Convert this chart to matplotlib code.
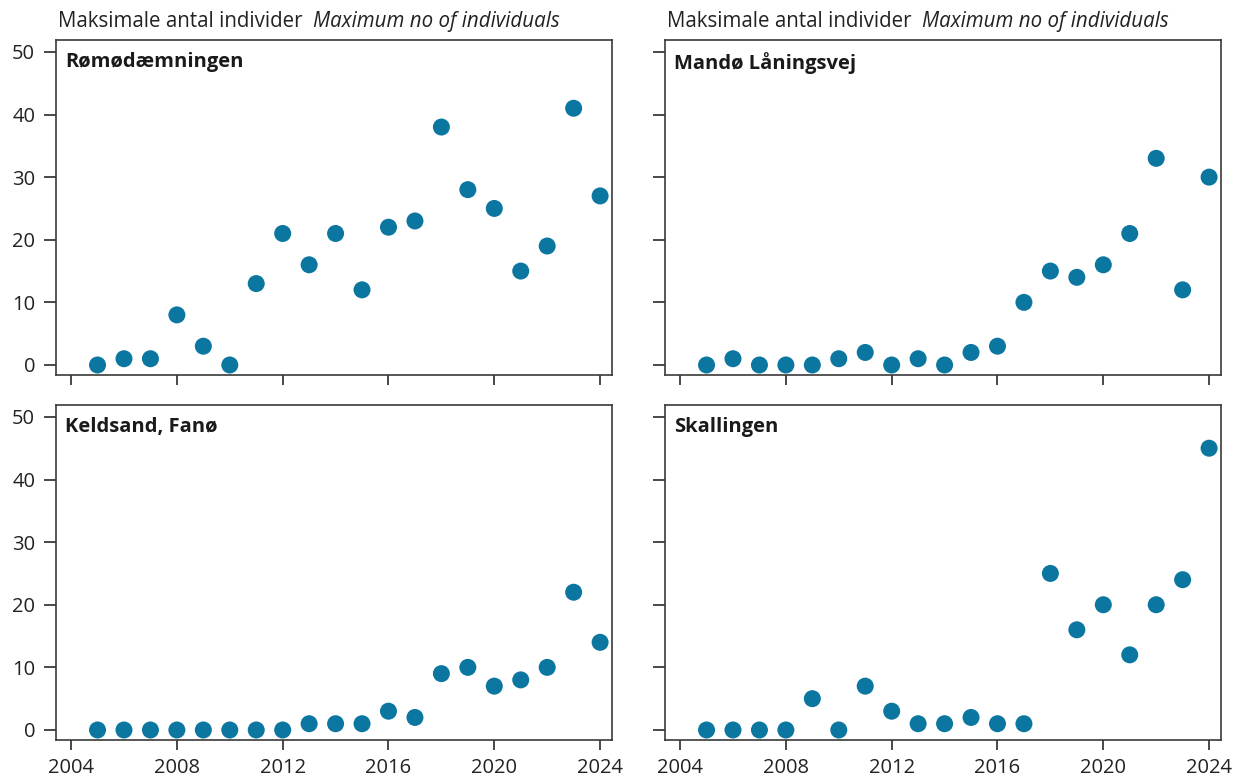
import matplotlib
matplotlib.use("Agg")
import matplotlib.pyplot as plt

years = list(range(2005, 2025))
romo = [0, 1, 1, 8, 3, 0, 13, 21, 16, 21, 12, 22, 23, 38, 28, 25, 15, 19, 41, 27]
mando = [0, 1, 0, 0, 0, 1, 2, 0, 1, 0, 2, 3, 10, 15, 14, 16, 21, 33, 12, 30]
keldsand = [0, 0, 0, 0, 0, 0, 0, 0, 1, 1, 1, 3, 2, 9, 10, 7, 8, 10, 22, 14]
skallingen = [0, 0, 0, 0, 5, 0, 7, 3, 1, 1, 2, 1, 1, 25, 16, 20, 12, 20, 24, 45]
panel_names = ["Rømødæmningen", "Mandø Låningsvej", "Keldsand, Fanø", "Skallingen"]
xticks = [2004, 2008, 2012, 2016, 2020, 2024]
yticks = [0, 10, 20, 30, 40, 50]
title_da = "Maksimale antal individer"
title_en = "Maximum no of individuals"

plt.rcParams['font.family'] = ['Open Sans', 'DejaVu Sans']
color = '#0b77a1'
edge = '#3a3a3a'

fig = plt.figure(figsize=(12.36, 7.78), dpi=100)
W, H = 1236, 778
lefts = [56, 665]
tops = [40, 405]
pw, ph = 556, 335
series = [romo, mando, keldsand, skallingen]
for i in range(4):
    r, c = divmod(i, 2)
    l = lefts[c] / W
    b = 1 - (tops[r] + ph) / H
    ax = fig.add_axes([l, b, pw / W, ph / H])
    ax.scatter(years, series[i], s=150, color=color, edgecolors='none', zorder=3, clip_on=False)
    ax.set_xlim(2003.43, 2024.45)
    ax.set_ylim(-1.6, 51.9)
    ax.set_xticks(xticks)
    ax.set_yticks(yticks)
    for sp in ax.spines.values():
        sp.set_color(edge)
        sp.set_linewidth(1.2)
    ax.tick_params(axis='x', direction='out', length=7.5, width=1.3, color=edge,
                   labelsize=14.5, pad=5.5, labelcolor='#222222')
    ax.tick_params(axis='y', direction='out', length=9, width=1.3, color=edge,
                   labelsize=14.5, pad=6, labelcolor='#222222')
    if r == 0:
        ax.set_xticklabels([])
    if c == 1:
        ax.set_yticklabels([])
    ax.text(0.017, 0.965, panel_names[i], transform=ax.transAxes, ha='left', va='top',
            fontsize=14.5, fontweight='bold', color='#1a1a1a')
    if r == 0:
        t = ax.text(0.003, 1.025, title_da + "  ", transform=ax.transAxes, ha='left',
                    va='bottom', fontsize=14.8, color='#222222')
        fig.canvas.draw()
        bb = t.get_window_extent()
        x1 = ax.transAxes.inverted().transform((bb.x1, bb.y0))[0]
        ax.text(x1, 1.025, title_en, transform=ax.transAxes, ha='left', va='bottom',
                fontsize=14.8, style='italic', color='#222222')

fig.savefig('out.png', dpi=100)
